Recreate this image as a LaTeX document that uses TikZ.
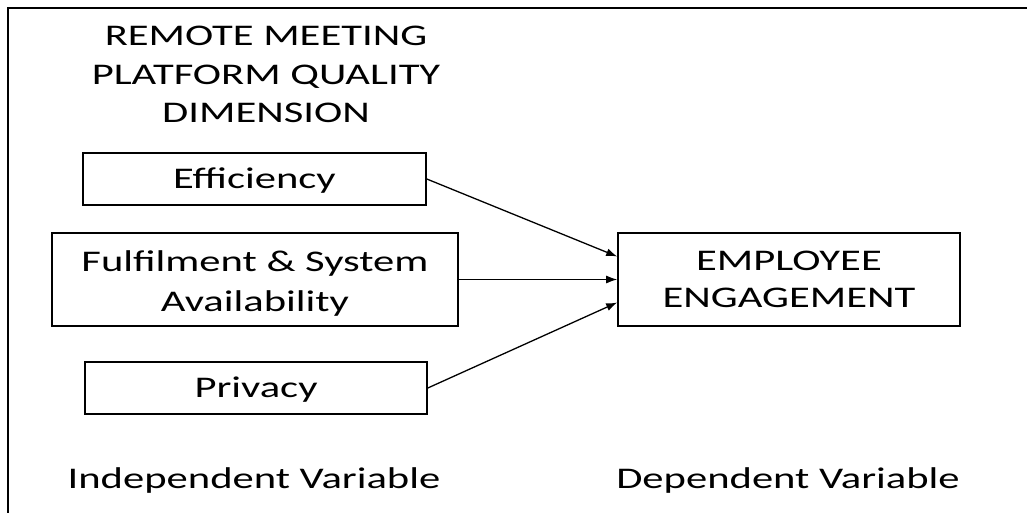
\documentclass[tikz,border=0pt]{standalone}
\usepackage{fontspec}
\setmainfont{Carlito}
\usepackage{graphicx}
\usetikzlibrary{arrows.meta}

% text of the original is set wide: stretch it sideways
\newcommand{\widetext}[1]{\scalebox{1.42}[1]{\begin{tabular}[b]{@{}c@{}}#1\end{tabular}}}

\begin{document}
\begin{tikzpicture}[x=1pt, y=-1pt,
    box/.style={draw, line width=1.6pt, inner sep=0pt, text depth=6pt,
        font=\fontsize{30}{37}\selectfont},
    heading/.style={inner sep=0pt, anchor=base,
        font=\fontsize{30}{38.5}\selectfont},
    link/.style={line width=1.3pt, -{Latex[length=11pt, width=8pt]}}]

    % --- Page and frame ---
    \useasboundingbox (0,0) rectangle (1027,513);
    \draw[line width=1.8pt] (8,513) -- (8,8) -- (1027,8);

    % --- Heading ---
    \node[heading] (title) at (266,123)
        {\widetext{REMOTE MEETING\\PLATFORM QUALITY\\DIMENSION}};

    % --- Independent variables ---
    \node[box, minimum width=343pt, minimum height=52pt] (eff) at (254.5,179)
        {\widetext{Efficiency}};
    \node[box, minimum width=406pt, minimum height=93pt, text depth=4pt,
        font=\fontsize{30}{40}\selectfont] (fsa) at (255,279.5)
        {\widetext{Fulfilment \& System\\Availability}};
    \node[box, minimum width=342pt, minimum height=52pt] (priv) at (256,388)
        {\widetext{Privacy}};

    % --- Dependent variable ---
    \node[box, minimum width=342pt, minimum height=93pt] (emp) at (789,279.5)
        {\widetext{EMPLOYEE\\ENGAGEMENT}};

    % --- Links ---
    \draw[link] (eff.east) -- ([yshift=23pt]emp.west);
    \draw[link] (fsa.east) -- (emp.west);
    \draw[link] (priv.east) -- ([yshift=-23pt]emp.west);

    % --- Variable captions ---
    \node[heading] (indep) at (254,488) {\widetext{Independent Variable}};
    \node[heading] (dep) at (788,488) {\widetext{Dependent Variable}};

\end{tikzpicture}
\end{document}
